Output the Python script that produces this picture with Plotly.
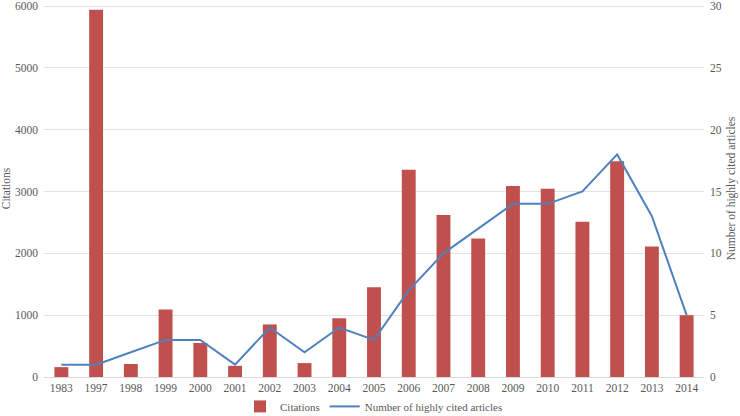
import plotly.graph_objects as go

years = ["1983", "1997", "1998", "1999", "2000", "2001", "2002", "2003", "2004", "2005",
         "2006", "2007", "2008", "2009", "2010", "2011", "2012", "2013", "2014"]
citations = [160, 5940, 210, 1090, 550, 180, 850, 225, 950, 1450,
             3350, 2620, 2240, 3090, 3045, 2510, 3490, 2110, 1000]
highly_cited = [1, 1, 2, 3, 3, 1, 4, 2, 4, 3, 7, 10, 12, 14, 14, 15, 18, 13, 5]
citation_ticks = [0, 1000, 2000, 3000, 4000, 5000, 6000]
article_ticks = [0, 5, 10, 15, 20, 25, 30]

FONT = "Liberation Serif, Times New Roman, serif"
GREY = "#595959"

fig = go.Figure()
fig.add_trace(go.Bar(x=years, y=citations, name="Citations",
                     marker=dict(color="#C0504D", line=dict(width=0)), yaxis="y"))
fig.add_trace(go.Scatter(x=years, y=highly_cited, name="Number of highly cited articles",
                         mode="lines", line=dict(color="#4F81BD", width=2), yaxis="y2"))

fig.update_layout(
    template="none",
    width=740, height=416,
    margin=dict(l=44, r=36, t=0, b=39, autoexpand=False),
    paper_bgcolor="white", plot_bgcolor="white",
    font=dict(family=FONT, size=11.5, color=GREY),
    bargap=0.6,
    showlegend=True,
    legend=dict(orientation="h", x=0.5, xanchor="center", y=-0.078, yanchor="middle",
                font=dict(family=FONT, size=11, color=GREY), bgcolor="rgba(0,0,0,0)"),
    xaxis=dict(type="category", showgrid=False, showline=True, linecolor="#D9D9D9",
               linewidth=1, ticks="", tickfont=dict(family=FONT, size=11.5, color=GREY)),
    yaxis=dict(range=[0, 6097], tickvals=citation_ticks, ticklabeloverflow="allow",
               showgrid=True, gridcolor="#E3E3E3", gridwidth=1, showline=False,
               zeroline=False, ticks="", ticklabelstandoff=5,
               tickfont=dict(family=FONT, size=11.5, color=GREY),
               title=dict(text="Citations", standoff=2,
                          font=dict(family=FONT, size=11.5, color=GREY))),
    yaxis2=dict(range=[0, 30.485], tickvals=article_ticks, overlaying="y",
                ticklabeloverflow="allow",
                side="right", showgrid=False, showline=False, zeroline=False, ticks="",
                ticklabelstandoff=5,
                tickfont=dict(family=FONT, size=11.5, color=GREY),
                title=dict(text="Number of highly cited articles", standoff=6,
                           font=dict(family=FONT, size=11.5, color=GREY))),
)

fig.write_html("out.html", config={"displayModeBar": False},
               post_script="document.body.style.margin='0';")
